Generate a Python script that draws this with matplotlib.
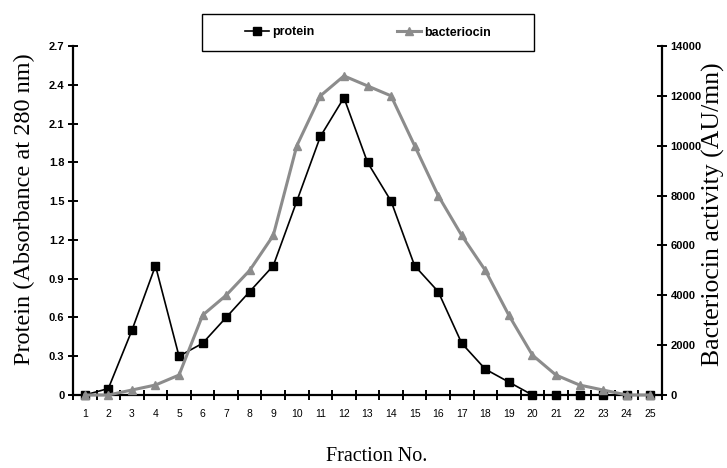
import matplotlib
matplotlib.use("Agg")
import matplotlib.pyplot as plt
from matplotlib.patches import Rectangle
from matplotlib.ticker import FixedLocator, FuncFormatter

# data
fractions = list(range(1, 26))
protein = [0, 0.05, 0.5, 1.0, 0.3, 0.4, 0.6, 0.8, 1.0, 1.5, 2.0, 2.3, 1.8, 1.5,
           1.0, 0.8, 0.4, 0.2, 0.1, 0, 0, 0, 0, 0, 0]
bacteriocin = [0, 0, 200, 400, 800, 3200, 4000, 5000, 6400, 10000, 12000, 12800,
               12400, 12000, 10000, 8000, 6400, 5000, 3200, 1600, 800, 400, 200, 0, 0]
protein_ticks = [0, 0.3, 0.6, 0.9, 1.2, 1.5, 1.8, 2.1, 2.4, 2.7]
bact_ticks = [0, 2000, 4000, 6000, 8000, 10000, 12000, 14000]

GREY = "#8c8c8c"
W, H = 727, 468

fig = plt.figure(figsize=(W / 100, H / 100), dpi=100)
ax = fig.add_axes([73 / W, 1 - 395 / H, (662 - 73) / W, (395 - 46) / H])
ax2 = ax.twinx()

ax.plot(fractions, protein, color="black", lw=1.2, marker="s", ms=5.5,
        clip_on=False, zorder=3, label="protein")
ax2.plot(fractions, bacteriocin, color=GREY, lw=2.2, marker="^", ms=6,
         clip_on=False, zorder=3, label="bacteriocin")

ax.set_xlim(0.5, 25.5)
ax.set_ylim(0, 2.7)
ax2.set_ylim(0, 14000)

# spines
for s in ["top", "right"]:
    ax.spines[s].set_visible(False)
for s in ["top", "left", "bottom"]:
    ax2.spines[s].set_visible(False)
for sp in [ax.spines["left"], ax.spines["bottom"], ax2.spines["right"]]:
    sp.set_linewidth(1.6)

# x axis: labels at categories, tick marks between them
ax.xaxis.set_major_locator(FixedLocator(fractions))
ax.xaxis.set_minor_locator(FixedLocator([f + 0.5 for f in range(0, 26)]))
ax.tick_params(axis="x", which="major", length=0, pad=10, labelsize=7.5)
ax.tick_params(axis="x", which="minor", direction="inout", length=6.5, width=1.4)

ax.set_yticks(protein_ticks)
ax.yaxis.set_major_formatter(FuncFormatter(lambda v, p: "0" if v == 0 else f"{v:.1f}"))
ax.tick_params(axis="y", direction="inout", length=6.5, width=1.4, labelsize=8, pad=3)
for t in ax.get_yticklabels():
    t.set_fontweight("bold")

ax2.set_yticks(bact_ticks)
ax2.tick_params(axis="y", direction="inout", length=6.5, width=1.4, labelsize=8, pad=3)
for t in ax2.get_yticklabels():
    t.set_fontweight("bold")

for t in ax.get_xticklabels() + ax.get_yticklabels() + ax2.get_yticklabels():
    t.set_fontfamily("Liberation Sans")

# axis titles
fig.text(24 / W, 1 - 209 / H, "Protein (Absorbance at 280 nm)", rotation=90,
         ha="center", va="center", fontsize=17.5, family="Liberation Serif")
fig.text(713 / W, 1 - 214 / H, "Bacteriocin activity (AU/mn)", rotation=90,
         ha="center", va="center", fontsize=18.5, family="Liberation Serif")
fig.text(377 / W, 1 - 461 / H, "Fraction No.", ha="center", va="baseline",
         fontsize=14.5, family="Liberation Serif")

# legend box on top
fig.patches.append(Rectangle((202 / W, 1 - 51 / H), (534 - 202) / W, 37 / H,
                             transform=fig.transFigure, fill=False,
                             edgecolor="black", lw=1.0))
h1, l1 = ax.get_legend_handles_labels()
h2, l2 = ax2.get_legend_handles_labels()
fig.legend(h1 + h2, l1 + l2, loc="center", bbox_to_anchor=(368 / W, 1 - 32.5 / H),
           ncol=2, frameon=False, handlelength=1.9, handletextpad=0.25,
           columnspacing=6.6, numpoints=1,
           prop={"family": "Liberation Sans", "weight": "bold", "size": 9})

fig.savefig("out.png", dpi=100)
